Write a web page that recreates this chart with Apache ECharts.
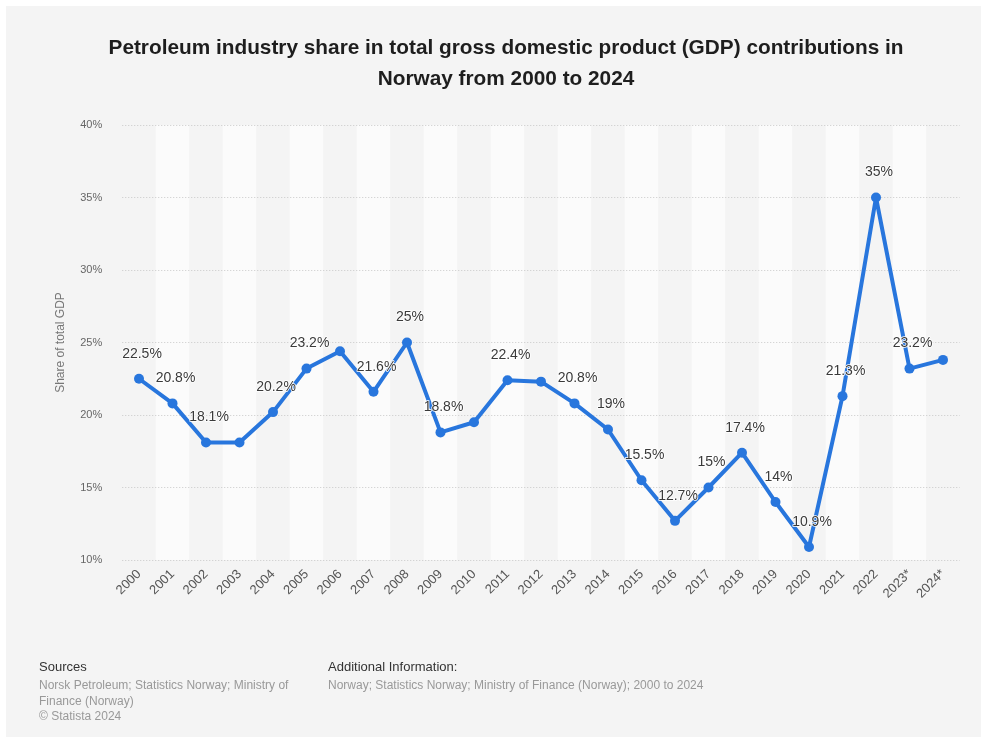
<!DOCTYPE html>
<html>
<head>
<meta charset="utf-8">
<style>
  html, body { margin: 0; padding: 0; background: #ffffff; }
  #chart { width: 987px; height: 743px; }
</style>
<script src="https://cdn.jsdelivr.net/npm/echarts@6/dist/echarts.min.js"></script>
</head>
<body>
<div id="chart"></div>
<script>
// Years shown on the category axis (2023 and 2024 are estimates)
const years = ['2000', '2001', '2002', '2003', '2004', '2005', '2006', '2007', '2008', '2009',
  '2010', '2011', '2012', '2013', '2014', '2015', '2016', '2017', '2018', '2019',
  '2020', '2021', '2022', '2023*', '2024*'];

// Petroleum share of total GDP, in percent
const shares = [22.5, 20.8, 18.1, 18.1, 20.2, 23.2, 24.4, 21.6, 25, 18.8,
  19.5, 22.4, 22.3, 20.8, 19, 15.5, 12.7, 15, 17.4, 14,
  10.9, 21.3, 35, 23.2, 23.8];

// Which points carry a value label
const labelled = [true, true, true, false, true, true, false, true, true, true,
  false, true, false, true, true, true, true, true, true, true,
  true, true, true, true, false];

const yTicks = [10, 15, 20, 25, 30, 35, 40];

const FONT = '"Liberation Sans", Arial, Helvetica, sans-serif';

const chart = echarts.init(document.getElementById('chart'), null, { renderer: 'canvas' });

const seriesData = shares.map((v, i) => ({
  value: v,
  label: { show: labelled[i] }
}));

chart.setOption({
  backgroundColor: '#ffffff',
  animation: false,
  textStyle: { fontFamily: FONT },
  title: {
    text: 'Petroleum industry share in total gross domestic product (GDP) contributions in\nNorway from 2000 to 2024',
    left: 501,
    textAlign: 'center',
    top: 28,
    textStyle: {
      fontFamily: FONT,
      fontSize: 20.8,
      fontWeight: 'bold',
      color: '#1e1e1e',
      lineHeight: 31
    }
  },
  grid: {
    left: 122.25,
    right: 27.25,
    top: 125,
    bottom: 183,
    containLabel: false
  },
  xAxis: {
    type: 'category',
    data: years,
    boundaryGap: true,
    z: 0,
    axisLine: { show: false },
    axisTick: { show: false },
    axisLabel: {
      rotate: 45,
      margin: 12,
      fontSize: 13,
      color: '#555555',
      fontFamily: FONT,
      interval: 0
    },
    splitLine: { show: false },
    splitArea: {
      show: true,
      interval: 0,
      areaStyle: { color: ['rgba(244,244,244,1)', 'rgba(251,251,251,1)'] }
    }
  },
  yAxis: {
    type: 'value',
    min: yTicks[0],
    max: yTicks[yTicks.length - 1],
    interval: 5,
    z: 2,
    name: 'Share of total GDP',
    nameLocation: 'middle',
    nameGap: 56,
    nameTextStyle: { fontSize: 12, color: '#777777', fontFamily: FONT },
    axisLine: { show: false },
    axisTick: { show: false },
    axisLabel: {
      formatter: '{value}%',
      fontSize: 11,
      color: '#666666',
      margin: 20,
      fontFamily: FONT
    },
    splitLine: {
      show: true,
      lineStyle: { color: '#c8c8c8', type: [1, 2], width: 1 }
    }
  },
  series: [{
    type: 'line',
    data: seriesData,
    color: '#2876dd',
    symbol: 'circle',
    symbolSize: 10,
    lineStyle: { width: 4, color: '#2876dd' },
    itemStyle: { color: '#2876dd' },
    label: {
      position: 'top',
      distance: 13,
      offset: [3, 0],
      formatter: p => p.value + '%',
      fontSize: 14,
      color: '#3a3a3a',
      fontFamily: FONT,
      textBorderColor: '#ffffff',
      textBorderWidth: 1.5
    },
    z: 3
  }],
  graphic: [
    {
      type: 'rect',
      z: -10,
      silent: true,
      shape: { x: 6, y: 6, width: 975, height: 731 },
      style: { fill: '#f4f4f4' }
    },
    {
      type: 'text', left: 39, top: 661,
      style: { text: 'Sources', fontSize: 13, fill: '#333333', fontFamily: FONT }
    },
    {
      type: 'text', left: 39, top: 678,
      style: {
        text: 'Norsk Petroleum; Statistics Norway; Ministry of\nFinance (Norway)\n© Statista 2024',
        fontSize: 12, lineHeight: 15.5, fill: '#999999', fontFamily: FONT
      }
    },
    {
      type: 'text', left: 328, top: 661,
      style: { text: 'Additional Information:', fontSize: 13, fill: '#333333', fontFamily: FONT }
    },
    {
      type: 'text', left: 328, top: 678,
      style: {
        text: 'Norway; Statistics Norway; Ministry of Finance (Norway); 2000 to 2024',
        fontSize: 12, lineHeight: 15.5, fill: '#999999', fontFamily: FONT
      }
    }
  ]
});
</script>
</body>
</html>
